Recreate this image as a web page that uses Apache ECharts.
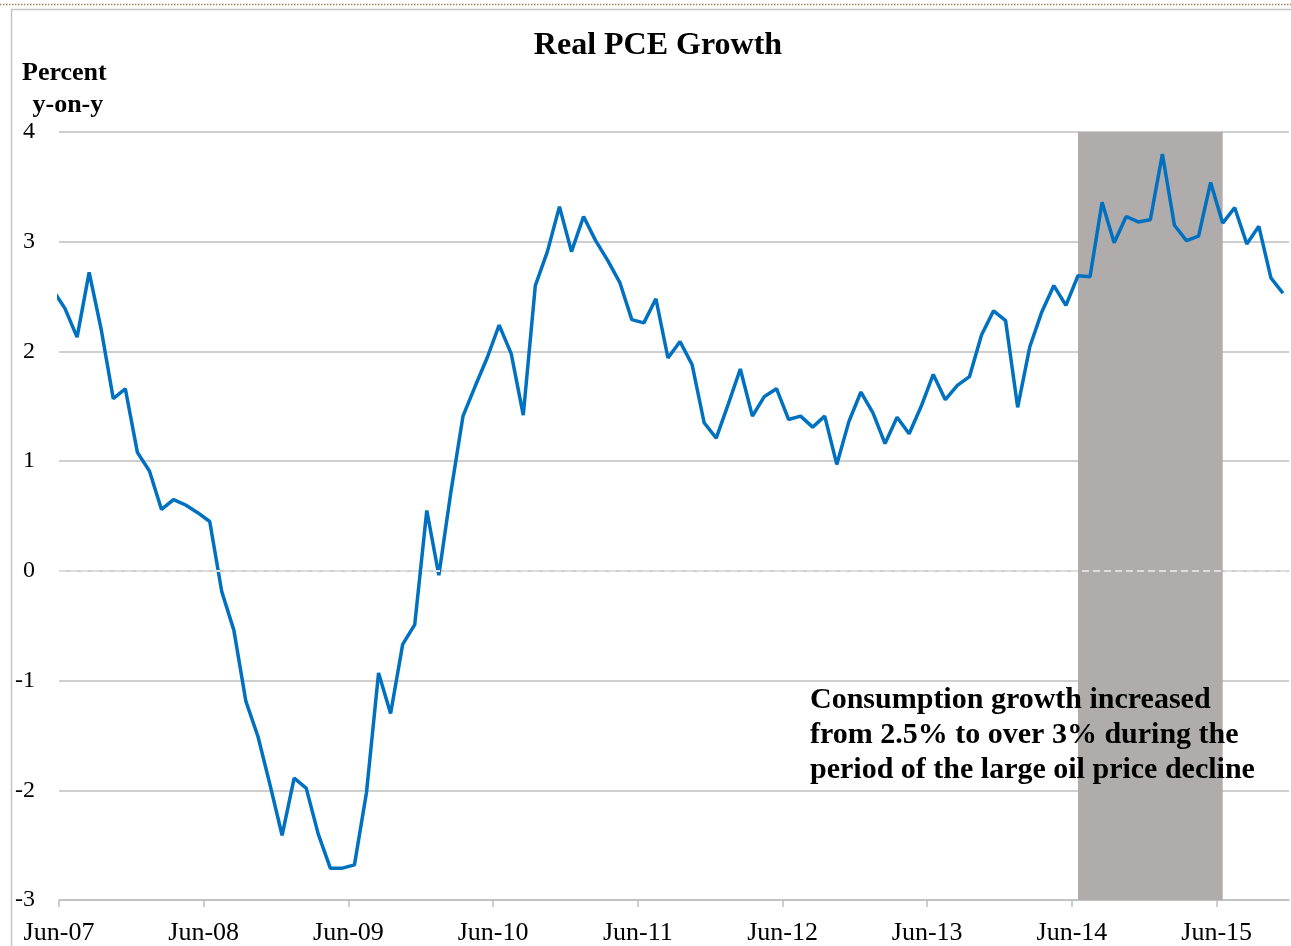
<!DOCTYPE html>
<html>
<head>
<meta charset="utf-8">
<script src="https://cdn.jsdelivr.net/npm/echarts@6/dist/echarts.min.js"></script>
<style>
html,body{margin:0;padding:0;background:#fff;}
#chart{width:1291px;height:946px;}
</style>
</head>
<body>
<div id="chart"></div>
<script>
// Monthly observations (first one, May-07, is partly clipped at the left edge)
const months = [
"May-07","Jun-07","Jul-07","Aug-07","Sep-07","Oct-07","Nov-07","Dec-07",
"Jan-08","Feb-08","Mar-08","Apr-08","May-08","Jun-08","Jul-08","Aug-08","Sep-08","Oct-08","Nov-08","Dec-08",
"Jan-09","Feb-09","Mar-09","Apr-09","May-09","Jun-09","Jul-09","Aug-09","Sep-09","Oct-09","Nov-09","Dec-09",
"Jan-10","Feb-10","Mar-10","Apr-10","May-10","Jun-10","Jul-10","Aug-10","Sep-10","Oct-10","Nov-10","Dec-10",
"Jan-11","Feb-11","Mar-11","Apr-11","May-11","Jun-11","Jul-11","Aug-11","Sep-11","Oct-11","Nov-11","Dec-11",
"Jan-12","Feb-12","Mar-12","Apr-12","May-12","Jun-12","Jul-12","Aug-12","Sep-12","Oct-12","Nov-12","Dec-12",
"Jan-13","Feb-13","Mar-13","Apr-13","May-13","Jun-13","Jul-13","Aug-13","Sep-13","Oct-13","Nov-13","Dec-13",
"Jan-14","Feb-14","Mar-14","Apr-14","May-14","Jun-14","Jul-14","Aug-14","Sep-14","Oct-14","Nov-14","Dec-14",
"Jan-15","Feb-15","Mar-15","Apr-15","May-15","Jun-15","Jul-15","Aug-15","Sep-15","Oct-15","Nov-15"
];
const pceGrowth = [
2.56,2.39,2.13,2.72,2.20,1.57,1.66,1.08,
0.91,0.56,0.65,0.60,0.53,0.45,-0.19,-0.54,-1.19,-1.51,-1.95,-2.41,
-1.89,-1.98,-2.40,-2.71,-2.71,-2.68,-2.02,-0.93,-1.30,-0.67,-0.49,0.55,
-0.04,0.72,1.41,1.68,1.94,2.24,1.98,1.42,2.60,2.91,3.32,2.91,
3.23,3.01,2.83,2.63,2.29,2.26,2.48,1.94,2.09,1.88,1.35,1.21,
1.52,1.84,1.41,1.59,1.66,1.38,1.41,1.31,1.41,0.97,1.36,1.63,
1.44,1.16,1.40,1.25,1.50,1.79,1.56,1.69,1.77,2.15,2.37,2.28,
1.49,2.04,2.36,2.60,2.42,2.69,2.68,3.36,2.99,3.23,3.18,3.20,
3.80,3.15,3.01,3.05,3.54,3.17,3.31,2.98,3.14,2.67,2.53
];
const tickLabels = ["Jun-07","Jun-08","Jun-09","Jun-10","Jun-11","Jun-12","Jun-13","Jun-14","Jun-15"];
const yTicks = [-3,-2,-1,0,1,2,3,4];
const shadeFrom = "Jun-14";
const shadeTo = "Jun-15";
const titleText = "Real PCE Growth";
const yNameLines = ["Percent", " y-on-y"];
const noteLines = ["Consumption growth increased", "from 2.5% to over 3% during the", "period of the large oil price decline"];

// x position in months from the Jun-07 tick; observations sit mid-month
const firstTickIdx = months.indexOf(tickLabels[0]);
const xOf = i => i - firstTickIdx + 0.5;
const seriesData = pceGrowth.map((v, i) => [xOf(i), v]);
const tickValues = tickLabels.map(t => months.indexOf(t) - firstTickIdx);

const FONT = "'Liberation Serif','Times New Roman',serif";
const chart = echarts.init(document.getElementById('chart'), null, {renderer: 'canvas'});

chart.setOption({
  animation: false,
  backgroundColor: '#ffffff',
  grid: {left: 59, top: 132, right: 2, bottom: 45, containLabel: false},
  xAxis: {
    type: 'value',
    min: 0,
    max: 102,
    interval: 12,
    axisLine: {show: true, onZero: false, lineStyle: {color: '#bfbfbf', width: 1.5}},
    axisTick: {show: true, length: 7, customValues: tickValues, lineStyle: {color: '#bfbfbf', width: 1.5}},
    axisLabel: {
      customValues: tickValues,
      margin: 20,
      fontFamily: FONT, fontSize: 26, color: '#000',
      formatter: v => { const k = tickValues.indexOf(v); return k >= 0 ? tickLabels[k] : ''; }
    },
    splitLine: {show: false}
  },
  yAxis: {
    type: 'value',
    min: yTicks[0],
    max: yTicks[yTicks.length - 1],
    interval: 1,
    axisLine: {show: false},
    axisTick: {show: false},
    axisLabel: {margin: 24, fontFamily: FONT, fontSize: 24, color: '#000'},
    splitLine: {show: true, lineStyle: {color: '#bfbfbf', width: 1.5}}
  },
  series: [
    {
      type: 'line',
      name: 'shade',
      data: [],
      z: 1,
      silent: true,
      markArea: {
        silent: true,
        itemStyle: {color: '#afacab', opacity: 1},
        data: [[{xAxis: xOf(months.indexOf(shadeFrom))}, {xAxis: xOf(months.indexOf(shadeTo))}]]
      }
    },
    {
      type: 'line',
      name: 'zero',
      data: [],
      z: 2,
      silent: true,
      markLine: {
        silent: true,
        symbol: 'none',
        label: {show: false},
        lineStyle: {color: '#dedede', type: [7, 4], width: 2},
        data: [{yAxis: 0}]
      }
    },
    {
      type: 'line',
      name: 'Real PCE',
      data: seriesData,
      z: 3,
      clip: true,
      symbol: 'none',
      lineStyle: {color: '#0070c0', width: 3.5},
      itemStyle: {color: '#0070c0'}
    }
  ],
  graphic: [
    {type: 'line', z: 100, shape: {x1: 0, y1: 4.5, x2: 1291, y2: 4.5},
     style: {stroke: '#9c8560', lineWidth: 1.5, lineDash: [1.5, 1.5]}},
    {type: 'rect', z: 100, shape: {x: 11.5, y: 9.5, width: 1300, height: 1000},
     style: {fill: 'none', stroke: '#c4c4c4', lineWidth: 1.5}},
    {type: 'text', z: 100, x: 658, y: 30,
     style: {text: titleText, font: "bold 32px " + FONT, fill: '#000', textAlign: 'center', textVerticalAlign: 'top'}},
    {type: 'text', z: 100, left: 22, top: 60,
     style: {text: yNameLines[0], font: "bold 26px " + FONT, fill: '#000'}},
    {type: 'text', z: 100, left: 26, top: 92,
     style: {text: yNameLines[1], font: "bold 26px " + FONT, fill: '#000'}},
    {type: 'text', z: 100, left: 810, top: 683,
     style: {text: noteLines.join('\n'), font: "bold 30px " + FONT, lineHeight: 35, fill: '#000'}}
  ]
});
</script>
</body>
</html>
